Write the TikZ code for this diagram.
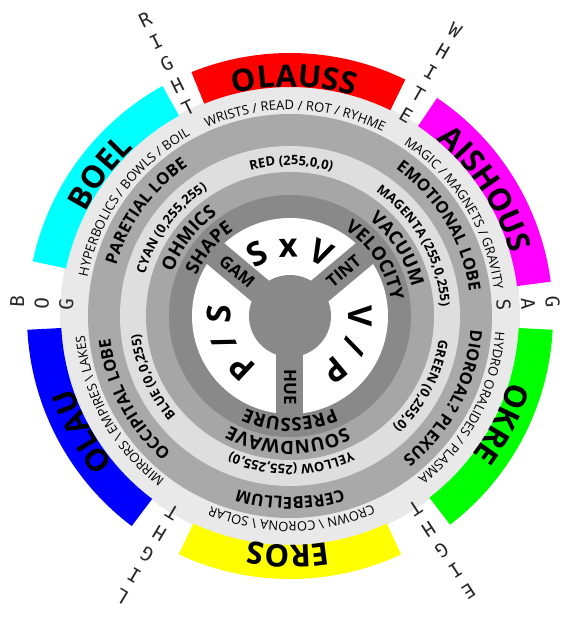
\documentclass[tikz,border=0pt]{standalone}
\usepackage{fontspec}
\setmainfont{Open Sans}
\newfontfamily\letterfont{DejaVu Sans Mono}
\usepackage{tikz}
\usetikzlibrary{decorations.text}
\definecolor{ringouter}{HTML}{E9E9E9}
\definecolor{ringlobe}{HTML}{A9A9A9}
\definecolor{ringcolour}{HTML}{DEDEDE}
\definecolor{ringsense}{HTML}{A6A6A6}
\definecolor{ringcore}{HTML}{898989}
\definecolor{bandred}{RGB}{255,0,0}
\definecolor{bandmagenta}{RGB}{255,0,255}
\definecolor{bandgreen}{RGB}{0,255,0}
\definecolor{bandyellow}{RGB}{255,255,0}
\definecolor{bandblue}{RGB}{0,0,255}
\definecolor{bandcyan}{RGB}{0,255,255}
\newcommand{\titlesize}{\fontsize{31}{31}\selectfont\bfseries}
\newcommand{\wordsize}{\fontsize{13}{13}\selectfont}
\newcommand{\lobesize}{\fontsize{16.5}{16.5}\selectfont\bfseries}
\newcommand{\rgbsize}{\fontsize{13}{13}\selectfont\bfseries}
\newcommand{\sensesize}{\fontsize{18.5}{18.5}\selectfont\bfseries}
\newcommand{\coresize}{\fontsize{33}{33}\selectfont\bfseries}
% text bent along a clockwise arc: radius, centre angle, font, text
\newcommand{\ringtext}[4]{%
  \path[decorate, decoration={text along path, text align=center,
        text={|#3|#4}}]
    (#2+80:#1) arc[start angle=#2+80, end angle=#2-80, radius=#1];}

\begin{document}
\begin{tikzpicture}[x=1pt, y=1pt,
    letter/.style={font=\letterfont\fontsize{19}{19}\selectfont,
                   text=black!85, inner sep=0pt},
    spokelabel/.style={font=\fontsize{17}{17}\selectfont\bfseries,
                       inner sep=0pt}]
  \useasboundingbox (-290,-306) rectangle (290,316);
  % grey rings
  \foreach \r/\c in {230/ringouter, 202/ringlobe, 170/ringcolour,
                     144/ringsense, 121/ringcore}
    \fill[\c] (0,0) circle[radius=\r];
  % coloured bands
  \foreach \a/\b/\c in {64/112/bandred, 7.5/56/bandmagenta,
                        -52.5/-3/bandgreen, 245/295/bandyellow,
                        183/233/bandblue, 119/168/bandcyan}
    \fill[\c] (\a:229) arc[start angle=\a, end angle=\b, radius=229]
      -- (\b:263) arc[start angle=\b, end angle=\a, radius=263] -- cycle;
  % white sectors, spokes and hub
  \fill[white] (0,0) circle[radius=98];
  \foreach \ang in {40,140,270}
    \draw[ringcore, line width=27pt] (0,0) -- (\ang:99);
  \fill[ringcore] (0,0) circle[radius=41];

  % band titles
  \ringtext{229}{89}{\titlesize}{OLAUSS}
  \ringtext{229}{33}{\titlesize}{AISHOUS}
  \ringtext{229}{-27}{\titlesize}{OKRE}
  \ringtext{229}{269.5}{\titlesize}{EROS}
  \ringtext{229}{209}{\titlesize}{OLAU}
  \ringtext{229}{143}{\titlesize}{BOEL}
  % outer word ring
  \ringtext{206}{88.5}{\wordsize}{WRISTS / READ / ROT / RYHME}
  \ringtext{206}{32}{\wordsize}{MAGIC / MAGNETS / GRAVITY}
  \ringtext{206}{-28}{\wordsize}{HYDRO ORALIDES / PLASMA}
  \ringtext{206}{270.5}{\wordsize}{CROWN {\textbackslash} CORONA {\textbackslash} SOLAR}
  \ringtext{206}{209}{\wordsize}{MIRRORS {\textbackslash} EMPIRES {\textbackslash} LAKES}
  \ringtext{206}{144}{\wordsize}{HYPERBOLICS / BOWLS / BOIL}
  % lobes
  \ringtext{181}{31}{\lobesize}{EMOTIONAL LOBE}
  \ringtext{181}{-28}{\lobesize}{DIOROAL? PLEXUS}
  \ringtext{181}{270}{\lobesize}{CEREBELLUM}
  \ringtext{181}{208}{\lobesize}{OCCIPITAL LOBE}
  \ringtext{181}{144}{\lobesize}{PARETIAL LOBE}
  % colour values
  \ringtext{151}{89.5}{\rgbsize}{RED (255,0,0)}
  \ringtext{151}{29.5}{\rgbsize}{MAGENTA (255,0,255)}
  \ringtext{151}{-28}{\rgbsize}{GREEN (0,255,0)}
  \ringtext{149}{270.5}{\rgbsize}{YELLOW (255,255,0)}
  \ringtext{151}{204}{\rgbsize}{BLUE (0,0,255)}
  \ringtext{151}{143.5}{\rgbsize}{CYAN (0,255,255)}
  % inner rings
  \ringtext{125}{32}{\sensesize}{VACUUM}
  \ringtext{125}{269}{\sensesize}{SOUNDWAVE}
  \ringtext{125}{142.5}{\sensesize}{OHMICS}
  \ringtext{102}{33}{\sensesize}{VELOCITY}
  \ringtext{102}{270}{\sensesize}{PRESSURE}
  \ringtext{102}{140}{\sensesize}{SHAPE}
  % sector ratios
  \ringtext{59}{90}{\coresize}{S x V}
  \ringtext{59}{-25}{\coresize}{V / P}
  \ringtext{59}{203}{\coresize}{P / S}
  % spoke labels
  \node[spokelabel, rotate=-40] (gam) at (140:69) {GAM};
  \node[spokelabel, rotate=40] (tint) at (40:70) {TINT};
  \node[spokelabel, rotate=-90] (hue) at (270:71) {HUE};

  % letters standing outside the bands
  \foreach \ang/\rr/\word in {116/330/{R,I,G,H,T}, 60/330/{W,H,I,T,E},
                              3/263/{G,A,S}, 177/273/{B,O,G},
                              239/327/{L,I,G,H,T}, 303/328/{E,I,G,H,T}}
    \foreach \l [count=\i] in \word
      \node[letter, rotate=\ang-90] (word\ang-\i)
        at (\ang:{\rr-24.5*(\i-1)}) {\l};
\end{tikzpicture}
\end{document}
